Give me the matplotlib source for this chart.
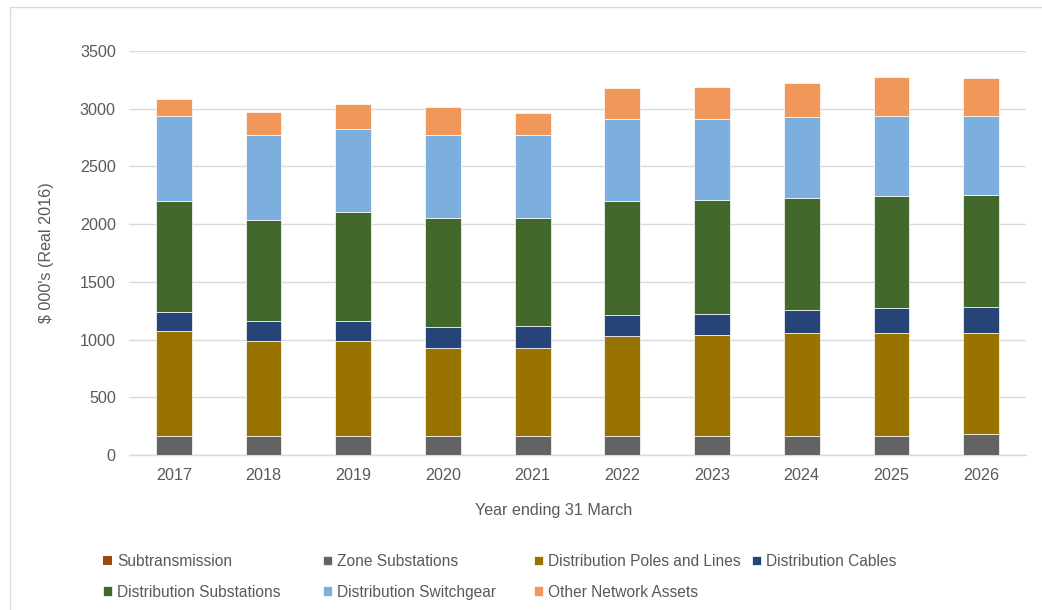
import numpy as np
import matplotlib
matplotlib.use("Agg")
import matplotlib.pyplot as plt
import matplotlib.patches as patches

plt.rcParams['font.family'] = ['Liberation Sans', 'DejaVu Sans']

years = ["2017", "2018", "2019", "2020", "2021", "2022", "2023", "2024", "2025", "2026"]

# $ 000's (Real 2016) per asset category
subtransmission = [0, 0, 0, 0, 0, 0, 0, 0, 0, 0]
zone_substations = [168, 168, 168, 168, 168, 168, 168, 168, 168, 182]
poles_and_lines = [910, 823, 823, 760, 760, 861, 872, 887, 887, 873]
dist_cables = [165, 174, 174, 179, 188, 188, 185, 199, 217, 225]
dist_substations = [959, 873, 936, 942, 933, 985, 986, 974, 968, 974]
dist_switchgear = [734, 734, 723, 723, 723, 708, 699, 697, 696, 682]
other_assets = [151, 202, 214, 242, 190, 266, 278, 300, 341, 330]

series = [
    ("Subtransmission", subtransmission, "#9E480E"),
    ("Zone Substations", zone_substations, "#636363"),
    ("Distribution Poles and Lines", poles_and_lines, "#997300"),
    ("Distribution Cables", dist_cables, "#264478"),
    ("Distribution Substations", dist_substations, "#43682B"),
    ("Distribution Switchgear", dist_switchgear, "#7CAFDD"),
    ("Other Network Assets", other_assets, "#F1975A"),
]

text_col = "#595959"
grid_col = "#D9D9D9"
fs = 11.6

fig = plt.figure(figsize=(10.42, 6.10), dpi=100)
ax = fig.add_axes([129 / 1042, 1 - 455 / 610, 897 / 1042, 404 / 610])

x = np.arange(len(years))
bottom = np.zeros(len(years))
handles = {}
for name, vals, col in series:
    vals = np.array(vals, dtype=float)
    bars = ax.bar(x, vals, width=0.4, bottom=bottom, color=col,
                  edgecolor="white", linewidth=0.5 if vals.any() else 0,
                  zorder=3, label=name)
    handles[name] = bars
    bottom += vals

ax.set_xlim(-0.5, len(years) - 0.5)
ax.set_ylim(0, 3500)
ax.set_yticks(np.arange(0, 3501, 500))
ax.set_xticks(x)
ax.set_xticklabels(years)
ax.yaxis.grid(True, color=grid_col, linewidth=1.0, zorder=0)
ax.set_axisbelow(True)
for side in ["top", "right", "left"]:
    ax.spines[side].set_visible(False)
ax.spines["bottom"].set_color(grid_col)
ax.spines["bottom"].set_linewidth(1.0)
ax.tick_params(length=0, labelsize=fs, labelcolor=text_col)
ax.tick_params(axis="y", pad=9.5)
ax.tick_params(axis="x", pad=9)

ax.set_ylabel("$ 000's (Real 2016)", fontsize=fs, color=text_col)
ax.yaxis.set_label_coords(-0.084, 0.5)
ax.set_xlabel("Year ending 31 March", fontsize=fs, color=text_col)
ax.xaxis.set_label_coords(0.473, -0.119)

# legend laid out in four columns, two rows
columns = [
    (103, ["Subtransmission", "Distribution Substations"]),
    (323, ["Zone Substations", "Distribution Switchgear"]),
    (534, ["Distribution Poles and Lines", "Other Network Assets"]),
    (752, ["Distribution Cables"]),
]
for xpos, names in columns:
    leg = fig.legend([handles[n] for n in names], names,
                     loc="upper left", bbox_to_anchor=(xpos / 1042, 1 - 554 / 610),
                     frameon=False, fontsize=11.2, handlelength=0.6, handleheight=0.6,
                     handletextpad=0.3, labelspacing=1.0, borderpad=0, borderaxespad=0)
    for t in leg.get_texts():
        t.set_color(text_col)

# chart area frame
fig.add_artist(patches.Rectangle((10 / 1042, -0.1), 1.2, 1.1 - 7 / 610,
                                 transform=fig.transFigure, fill=False,
                                 edgecolor="#D9D9D9", linewidth=1.0))

fig.savefig("out.png", dpi=100)
